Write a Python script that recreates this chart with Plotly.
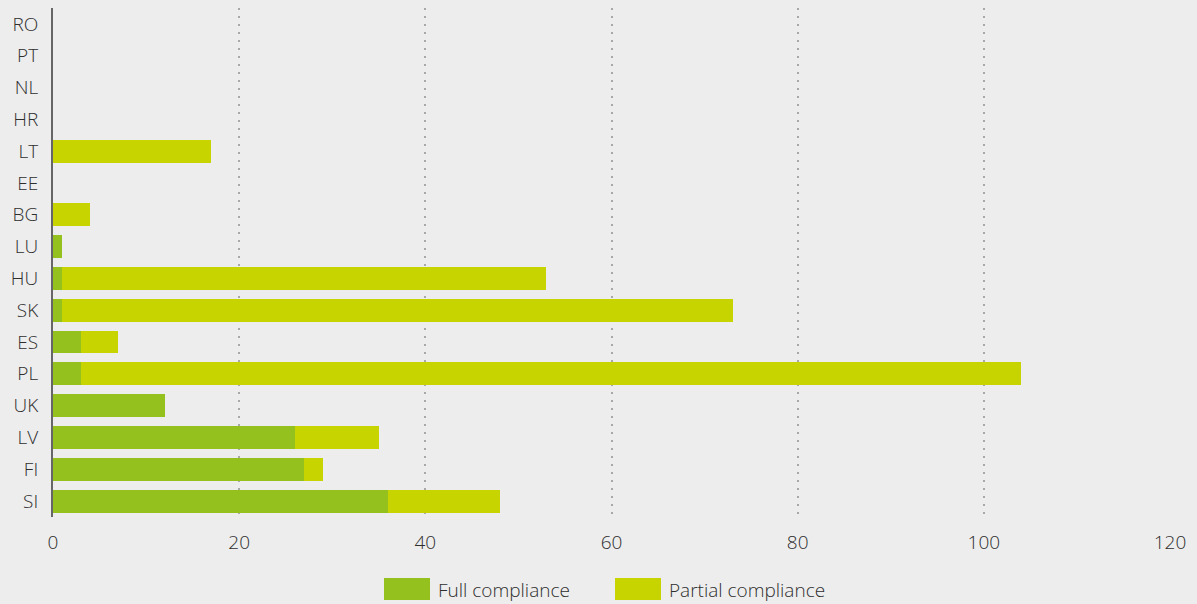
import plotly.graph_objects as go

countries = ["SI", "FI", "LV", "UK", "PL", "ES", "SK", "HU", "LU", "BG", "EE", "LT", "HR", "NL", "PT", "RO"]
full_compliance = [36, 27, 26, 12, 3, 3, 1, 1, 1, 0, 0, 0, 0, 0, 0, 0]
partial_compliance = [12, 2, 9, 0, 101, 4, 72, 52, 0, 4, 0, 17, 0, 0, 0, 0]
x_ticks = [0, 20, 40, 60, 80, 100, 120]
series_names = ["Full compliance", "Partial compliance"]

GREEN = "#95c11f"
LIME = "#c8d400"
BG = "#ededed"
TXT = "#2e2e2e"
FONT = "Open Sans"
FS = 19

fig = go.Figure()
fig.add_trace(go.Bar(y=countries, x=full_compliance, orientation="h", name=series_names[0],
                     marker=dict(color=GREEN, line=dict(width=0))))
fig.add_trace(go.Bar(y=countries, x=partial_compliance, orientation="h", name=series_names[1],
                     marker=dict(color=LIME, line=dict(width=0))))

# custom legend with large swatches
W, H = 1197, 604
L, R, T, B = 53, 27, 8, 87
pw, ph = W - L - R, H - T - B
def px(x):
    return (x - L) / pw
def py(y):
    return (H - B - y) / ph

for x0, col, name in [(384, GREEN, series_names[0]), (615, LIME, series_names[1])]:
    fig.add_shape(type="rect", xref="paper", yref="paper", x0=px(x0), x1=px(x0 + 46),
                  y0=py(578), y1=py(600), fillcolor=col, line=dict(width=0))
    fig.add_annotation(xref="paper", yref="paper", x=px(x0 + 52), y=py(590), text=name,
                       showarrow=False, xanchor="left", yanchor="middle",
                       font=dict(family=FONT, size=FS, color=TXT, weight=300))

fig.update_layout(
    barmode="stack",
    bargap=0.28,
    width=W, height=H,
    margin=dict(l=L, r=R, t=T, b=B),
    paper_bgcolor=BG, plot_bgcolor=BG,
    font=dict(family=FONT, size=FS, color=TXT, weight=300),
    showlegend=False,
    xaxis=dict(range=[0, 120], tickvals=x_ticks, showgrid=True, gridcolor="#a8a8a8",
               griddash="2px,6px", gridwidth=1.5, zeroline=False, showline=False, ticks="",
               ticklabelstandoff=12, tickfont=dict(family=FONT, size=FS, color=TXT, weight=300)),
    yaxis=dict(showline=True, linecolor="#666666", linewidth=2, ticks="", showgrid=False,
               ticklabelstandoff=9, tickfont=dict(family=FONT, size=FS, color=TXT, weight=300),
               categoryorder="array", categoryarray=countries),
)
fig.write_html("out.html", config={"displayModeBar": False},
               post_script="document.body.style.margin='0';document.body.style.background='#ededed';")
